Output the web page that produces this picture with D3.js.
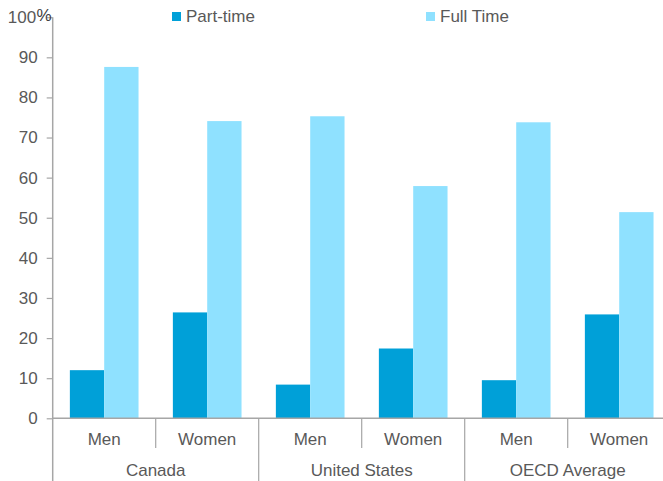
<!DOCTYPE html>
<html><head><meta charset="utf-8">
<script src="https://cdn.jsdelivr.net/npm/d3@7"></script>
<style>body{margin:0;background:#fff}svg{display:block;font-family:"Liberation Sans",Arial,sans-serif}</style>
</head><body><svg id="c" width="663" height="481"></svg>
<script>
const groups = ["Canada", "United States", "OECD Average"];
const subcats = ["Men", "Women"];
const seriesNames = ["Part-time", "Full Time"];
const partTime = [12.0, 26.4, 8.4, 17.4, 9.5, 25.9];
const fullTime = [87.6, 74.1, 75.3, 57.9, 73.8, 51.4];
const yTicks = [0, 10, 20, 30, 40, 50, 60, 70, 80, 90, 100];
const colors = ["#00a0d8", "#8fe1ff"];

const svg = d3.select("#c");
const FONT = "Liberation Sans, Arial, sans-serif";
const x0 = 52.7, yTop = 17.2, yBot = 418.3, groupW = 103;
const cats = [];
groups.forEach(g => subcats.forEach(s => cats.push(g + "|" + s)));
const x = d3.scaleBand().domain(cats).range([x0, x0 + groupW * cats.length]).paddingInner(0).paddingOuter(0);
const xs = d3.scaleBand().domain(seriesNames).range([0, x.bandwidth()]).paddingInner(0).paddingOuter(0.5);
const y = d3.scaleLinear().domain([0, 100]).range([yBot, yTop]);
const axisCol = "#a6a6a6", textCol = "#595959";

// bars
const data = [partTime, fullTime];
data.forEach((vals, si) => {
  svg.append("g").selectAll("rect").data(vals).join("rect")
    .attr("x", (d, i) => x(cats[i]) + xs(seriesNames[si]))
    .attr("width", xs.bandwidth())
    .attr("y", d => y(d))
    .attr("height", d => yBot - y(d))
    .attr("fill", colors[si]);
});

// y axis
const ya = svg.append("g").attr("transform", `translate(${x0},0)`)
  .call(d3.axisLeft(y).tickValues(yTicks).tickSize(6).tickPadding(9).tickFormat(d => d));
ya.select(".domain").remove();
ya.selectAll("line").attr("stroke", axisCol).attr("stroke-width", 1.2);
ya.selectAll("text").attr("fill", textCol).style("font-size", "17px").style("font-family", FONT)
  .attr("dx", d => d === 100 ? -1.5 : 0);
svg.append("text").attr("x", 36.5).attr("y", 20.5).attr("fill", "#404040")
  .style("font-size", "17px").style("font-family", FONT).text("%");
svg.append("line").attr("x1", x0).attr("x2", x0).attr("y1", yTop).attr("y2", 481)
  .attr("stroke", axisCol).attr("stroke-width", 1.5);

// x axis baseline
svg.append("line").attr("x1", x0).attr("x2", x0 + groupW * cats.length).attr("y1", yBot).attr("y2", yBot)
  .attr("stroke", axisCol).attr("stroke-width", 1.5);

// separators
cats.forEach((c, i) => {
  if (i === 0) return;
  const xx = x(c);
  const long = i % subcats.length === 0;
  svg.append("line").attr("x1", xx).attr("x2", xx).attr("y1", yBot).attr("y2", long ? 481 : 448)
    .attr("stroke", axisCol).attr("stroke-width", 1.2);
});
// sub labels
svg.append("g").selectAll("text").data(cats).join("text")
  .attr("x", d => x(d) + x.bandwidth() / 2).attr("y", 445)
  .attr("text-anchor", "middle").attr("fill", textCol).style("font-size", "17px").style("font-family", FONT)
  .text(d => d.split("|")[1]);
// group labels
svg.append("g").selectAll("text").data(groups).join("text")
  .attr("x", (d, i) => x0 + groupW * subcats.length * (i + 0.5)).attr("y", 476)
  .attr("text-anchor", "middle").attr("fill", textCol).style("font-size", "17px").style("font-family", FONT)
  .text(d => d);

// legend
const legX = [172, 426];
seriesNames.forEach((s, i) => {
  svg.append("rect").attr("x", legX[i]).attr("y", 12).attr("width", 9).attr("height", 9).attr("fill", colors[i]);
  svg.append("text").attr("x", legX[i] + 14).attr("y", 22).attr("fill", textCol)
    .style("font-size", "17px").style("font-family", FONT).text(s);
});
</script></body></html>
